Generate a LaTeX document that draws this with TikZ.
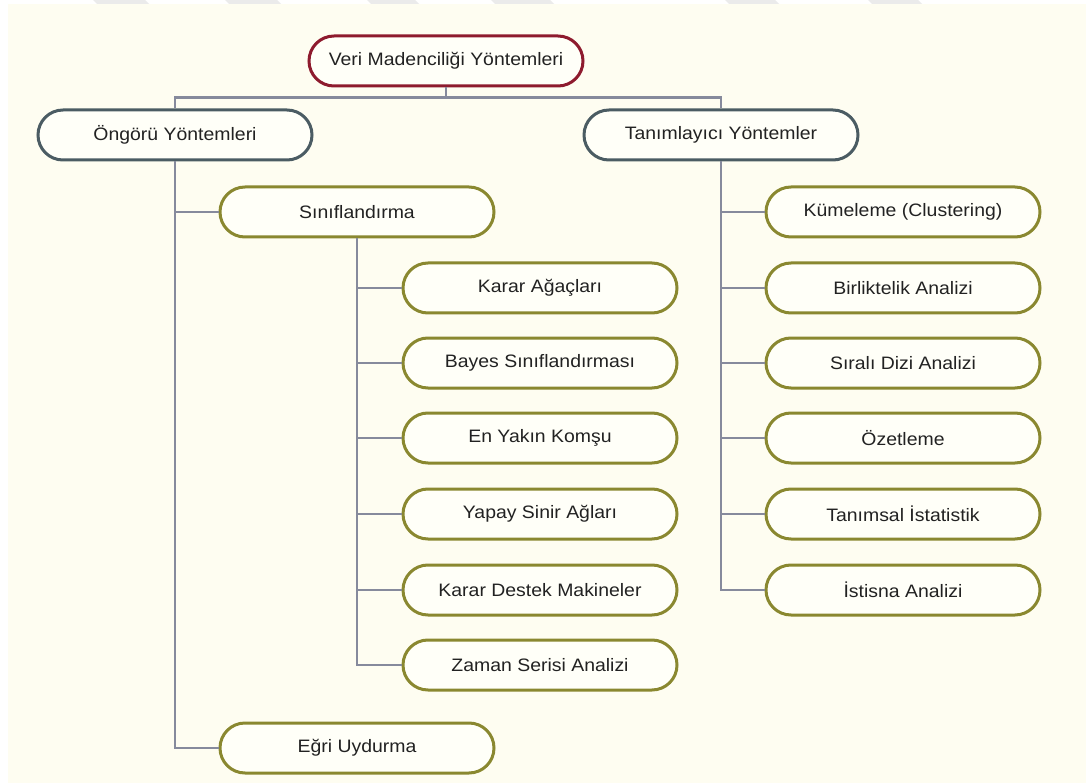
\documentclass[tikz,border=0pt]{standalone}
\usepackage{fontspec}
\setmainfont{Liberation Sans}
\usetikzlibrary{shapes.misc}
\definecolor{bgcream}{HTML}{FEFDF1}
\definecolor{boxfill}{HTML}{FFFFF8}
\definecolor{rootred}{HTML}{8E1B2E}
\definecolor{slateb}{HTML}{4B5C63}
\definecolor{olive}{HTML}{8A8830}
\definecolor{linegray}{HTML}{868A9C}
\definecolor{txt}{HTML}{222222}
\definecolor{wm}{HTML}{EBEBEB}
\newcommand{\lbl}[1]{\scalebox{1.08}[1]{#1}}
\tikzset{
  pill/.style={rounded rectangle, draw, line width=3pt, fill=boxfill,
    minimum width=274pt, minimum height=50pt, inner sep=0pt,
    text=txt, font=\fontsize{18}{20}\selectfont},
  rootbox/.style={pill, draw=rootred},
  mainbox/.style={pill, draw=slateb},
  subbox/.style={pill, draw=olive},
  conn/.style={draw=linegray, line width=2.3pt},
}
\begin{document}
\begin{tikzpicture}[x=1pt,y=-1pt]
\useasboundingbox (0,0) rectangle (1086,783);
\fill[white] (0,0) rectangle (1086,783);
\fill[bgcream] (8,4) rectangle (1086,783);
\foreach \a/\b in {93/145,225/277,367/415,491/550,725/775,868/918}
  \fill[wm] (\a,0) -- (\b,0) -- (\b+4,4) -- (\a+4,4) -- cycle;

\node[rootbox] (root) at (446,61) {\lbl{Veri Madenciliği Yöntemleri}};
\node[mainbox] (ong) at (175,135) {\lbl{Öngörü Yöntemleri}};
\node[mainbox] (tan) at (721,135) {\lbl{Tanımlayıcı Yöntemler}};
\node[subbox] (sin) at (357,212) {\lbl{Sınıflandırma}};
\node[subbox] (egri) at (357,748) {\lbl{Eğri Uydurma}};

\node[subbox] (k1) at (540,288) {\lbl{Karar Ağaçları}};
\node[subbox] (k2) at (540,363) {\lbl{Bayes Sınıflandırması}};
\node[subbox] (k3) at (540,438) {\lbl{En Yakın Komşu}};
\node[subbox] (k4) at (540,514) {\lbl{Yapay Sinir Ağları}};
\node[subbox] (k5) at (540,590) {\lbl{Karar Destek Makineler}};
\node[subbox] (k6) at (540,665) {\lbl{Zaman Serisi Analizi}};

\node[subbox] (r1) at (903,212) {\lbl{Kümeleme (Clustering)}};
\node[subbox] (r2) at (903,288) {\lbl{Birliktelik Analizi}};
\node[subbox] (r3) at (903,363) {\lbl{Sıralı Dizi Analizi}};
\node[subbox] (r4) at (903,438) {\lbl{Özetleme}};
\node[subbox] (r5) at (903,514) {\lbl{Tanımsal İstatistik}};
\node[subbox] (r6) at (903,590) {\lbl{İstisna Analizi}};

\coordinate (hb) at ([yshift=-10pt]root.south);
\draw[conn] (root.south) -- (hb);
\draw[conn] (ong.north) |- (hb) -| (tan.north);
\draw[conn] (ong.south) |- (egri.west);
\draw[conn] (ong.south |- sin.west) -- (sin.west);
\draw[conn] (sin.south) |- (k6.west);
\foreach \n in {k1,k2,k3,k4,k5}
  \draw[conn] (sin.south |- \n.west) -- (\n.west);
\draw[conn] (tan.south) |- (r6.west);
\foreach \n in {r1,r2,r3,r4,r5}
  \draw[conn] (tan.south |- \n.west) -- (\n.west);
\end{tikzpicture}
\end{document}
